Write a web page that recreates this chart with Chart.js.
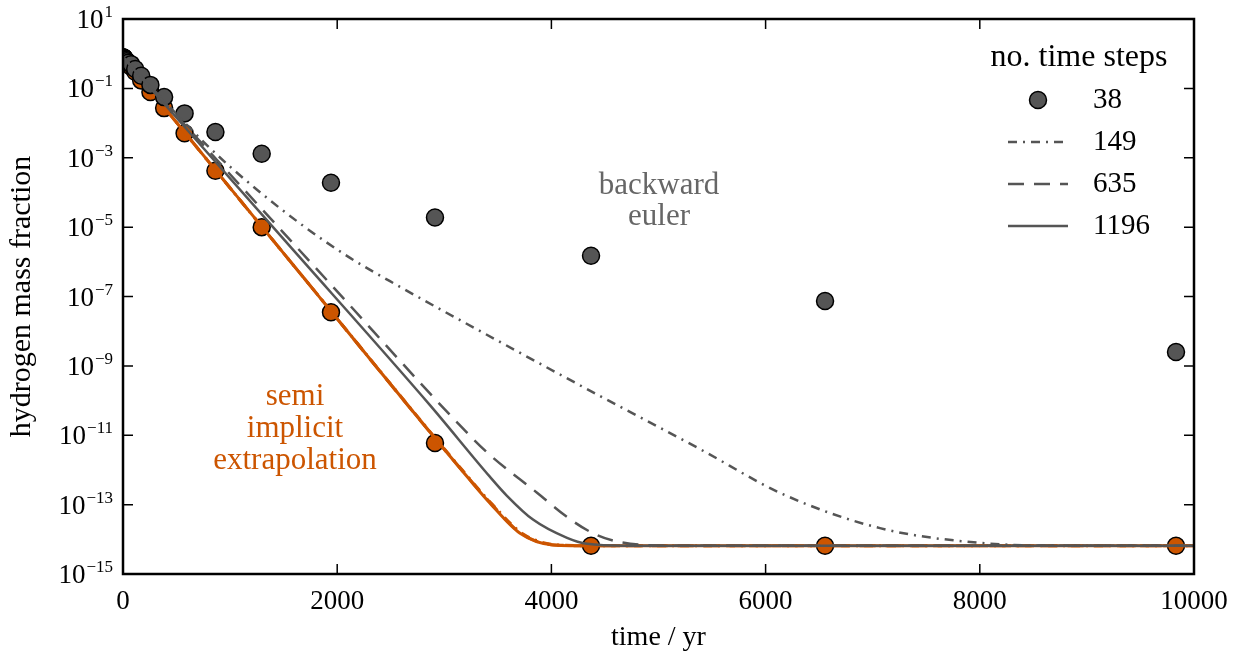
<!DOCTYPE html>
<html>
<head>
<meta charset="utf-8">
<script src="https://cdn.jsdelivr.net/npm/chart.js@4"></script>
<style>
  html, body { margin: 0; padding: 0; background: #fff; }
</style>
</head>
<body>
<canvas id="grafico" width="1245" height="658"></canvas>
<script>
// eixos
const xTicks = [0, 2000, 4000, 6000, 8000, 10000];
const yTicks = [1e1, 1e-1, 1e-3, 1e-5, 1e-7, 1e-9, 1e-11, 1e-13, 1e-15];
const yTickExps = ['1', '\u22121', '\u22123', '\u22125', '\u22127', '\u22129', '\u221211', '\u221213', '\u221215'];

// 38 passos: tempos dos pontos (yr)
const stepTimes = [3, 5, 7, 10, 15, 22, 34, 50, 76, 114, 170, 256, 384, 575, 863, 1295, 1942, 2913, 4370, 6555, 9832];
const eulerPoints = [0.78, 0.77, 0.76, 0.74, 0.71, 0.67, 0.61, 0.55, 0.5, 0.36, 0.23, 0.126, 0.056, 0.019, 5.5e-3, 1.3e-3, 1.9e-4, 1.9e-5, 1.5e-6, 7.4e-8, 2.5e-9];
const semiPoints = [0.78, 0.77, 0.755, 0.735, 0.70, 0.66, 0.59, 0.52, 0.42, 0.30, 0.17, 0.079, 0.027, 5.1e-3, 4.2e-4, 1.0e-5, 3.5e-8, 6e-12, 6.5e-15, 6.5e-15, 6.5e-15];

// backward euler, 149 / 635 / 1196 passos
const euler149T = [0, 812, 1251, 1681, 2120, 2586, 3520, 4454, 5387, 6162, 7068, 8002, 8936, 10000];
const euler149Y = [0.8, 1.9e-3, 1.2e-4, 1.1e-5, 1.3e-6, 1.9e-7, 4.9e-9, 1.35e-10, 4.0e-12, 2.0e-13, 2.1e-14, 7.9e-15, 6.5e-15, 6.5e-15];
const euler635T = [0, 1111, 1942, 3128, 3399, 3866, 4146, 4388, 4640, 5200, 10000];
const euler635Y = [0.8, 1.4e-4, 2.2e-7, 2.2e-11, 3.2e-12, 2.2e-13, 4.4e-14, 1.5e-14, 8.3e-15, 6.5e-15, 6.5e-15];
const euler1196T = [0, 1500, 2866, 3427, 3585, 3828, 4146, 4332, 4700, 10000];
const euler1196Y = [0.8, 4.5e-6, 7.4e-11, 6.3e-13, 1.8e-13, 3.7e-14, 1.1e-14, 7.4e-15, 6.5e-15, 6.5e-15];

// semi implicit extrapolation, 149 / 635 / 1196 passos
const semi149T = [0, 1600, 3260, 3450, 3740, 4060, 4500, 10000];
const semi149Y = [0.8, 7.4e-7, 4.6e-13, 1.0e-13, 1.4e-14, 6.9e-15, 6.5e-15, 6.5e-15];
const semi635T = [0, 1600, 3250, 3440, 3720, 4030, 4450, 10000];
const semi635Y = [0.8, 7.4e-7, 4.8e-13, 1.05e-13, 1.45e-14, 6.9e-15, 6.5e-15, 6.5e-15];
const semi1196T = [0, 1600, 3240, 3427, 3707, 4015, 4400, 10000];
const semi1196Y = [0.8, 7.4e-7, 5.1e-13, 1.1e-13, 1.5e-14, 6.9e-15, 6.5e-15, 6.5e-15];

const legendLabels = ['38', '149', '635', '1196'];

const GRAY = '#555555';
const ORANGE = '#cc5500';
const FONT = 'Liberation Serif';

function pts(xs, ys) {
  return xs.map((x, i) => ({ x: x, y: ys[i] }));
}

function lineSet(xs, ys, color, dash, width) {
  return {
    data: pts(xs, ys),
    showLine: true,
    borderColor: color,
    borderWidth: width,
    borderDash: dash,
    pointRadius: 0,
    fill: false,
    cubicInterpolationMode: 'monotone'
  };
}

function markerSet(xs, ys, color) {
  return {
    data: pts(xs, ys),
    showLine: false,
    pointRadius: 8.5,
    pointBackgroundColor: color,
    pointBorderColor: '#000',
    pointBorderWidth: 1.5
  };
}

const DASHDOT = [9, 6, 2, 6];
const DASHED = [16, 10];

// moldura, marcas para dentro, rótulos do eixo y, legenda e textos
const extras = {
  id: 'extras',
  afterDraw(chart) {
    const c = chart.ctx;
    const a = chart.chartArea;
    const sx = chart.scales.x;
    const sy = chart.scales.y;
    c.save();
    c.strokeStyle = '#000';
    c.lineWidth = 1.5;
    xTicks.forEach(v => {
      const px = sx.getPixelForValue(v);
      c.beginPath();
      c.moveTo(px, a.bottom); c.lineTo(px, a.bottom - 10);
      c.moveTo(px, a.top); c.lineTo(px, a.top + 10);
      c.stroke();
    });
    yTicks.forEach((v, i) => {
      const py = sy.getPixelForValue(v);
      c.beginPath();
      c.moveTo(a.left, py); c.lineTo(a.left + 10, py);
      c.moveTo(a.right, py); c.lineTo(a.right - 10, py);
      c.stroke();
      // 10^n
      c.fillStyle = '#000';
      c.textBaseline = 'alphabetic';
      c.textAlign = 'right';
      c.font = '17px "' + FONT + '"';
      const ew = c.measureText(yTickExps[i]).width;
      c.fillText(yTickExps[i], a.left - 10, py - 2);
      c.font = '27px "' + FONT + '"';
      c.fillText('10', a.left - 11 - ew, py + 9);
    });
    c.lineWidth = 2.5;
    c.strokeRect(a.left, a.top, a.right - a.left, a.bottom - a.top);

    // legenda
    c.textBaseline = 'middle';
    c.textAlign = 'center';
    c.fillStyle = '#000';
    c.font = '32px "' + FONT + '"';
    c.fillText('no. time steps', 1079, 58);
    c.font = '29px "' + FONT + '"';
    const rows = [100, 142, 184, 226];
    c.textAlign = 'left';
    rows.forEach((ry, i) => {
      c.fillStyle = '#000';
      c.fillText(legendLabels[i], 1093, ry);
      if (i === 0) {
        c.beginPath();
        c.arc(1038, ry, 8.5, 0, Math.PI * 2);
        c.fillStyle = GRAY;
        c.fill();
        c.lineWidth = 1.5;
        c.strokeStyle = '#000';
        c.stroke();
      } else {
        c.beginPath();
        c.setLineDash(i === 1 ? DASHDOT : (i === 2 ? DASHED : []));
        c.strokeStyle = GRAY;
        c.lineWidth = 2.5;
        c.moveTo(1008, ry); c.lineTo(1068, ry);
        c.stroke();
        c.setLineDash([]);
      }
    });

    // anotações
    c.font = '31px "' + FONT + '"';
    c.textAlign = 'center';
    c.fillStyle = '#666666';
    c.fillText('backward', 659, 186);
    c.fillText('euler', 659, 217);
    c.fillStyle = ORANGE;
    c.fillText('semi', 295, 397);
    c.fillText('implicit', 295, 429);
    c.fillText('extrapolation', 295, 461);
    c.restore();
  }
};

const ctx = document.getElementById('grafico');

const grafico = new Chart(ctx, {
  type: 'scatter',
  data: {
    datasets: [
      lineSet(euler149T, euler149Y, GRAY, DASHDOT, 2.5),
      lineSet(euler635T, euler635Y, GRAY, DASHED, 2.5),
      lineSet(euler1196T, euler1196Y, GRAY, [], 2.5),
      markerSet(stepTimes, eulerPoints, GRAY),
      lineSet(semi149T, semi149Y, ORANGE, DASHDOT, 3),
      lineSet(semi635T, semi635Y, ORANGE, DASHED, 3),
      lineSet(semi1196T, semi1196Y, ORANGE, [], 3),
      markerSet(stepTimes, semiPoints, ORANGE)
    ]
  },
  options: {
    responsive: false,
    animation: false,
    devicePixelRatio: 1,
    layout: { padding: { top: 19, right: 51, left: 0, bottom: 0 } },
    plugins: {
      legend: { display: false },
      tooltip: { enabled: false }
    },
    scales: {
      x: {
        type: 'linear',
        min: 0,
        max: 10000,
        grid: { display: false, drawTicks: false },
        border: { display: false },
        ticks: {
          stepSize: 2000,
          padding: 12,
          maxRotation: 0,
          color: '#000',
          font: { family: FONT, size: 27 },
          callback: (v) => String(v)
        },
        title: {
          display: true,
          text: 'time / yr',
          color: '#000',
          font: { family: FONT, size: 28 }
        },
        afterFit(scale) { scale.height = 84; }
      },
      y: {
        type: 'logarithmic',
        min: 1e-15,
        max: 1e1,
        grid: { display: false, drawTicks: false },
        border: { display: false },
        ticks: { display: false },
        title: {
          display: true,
          text: 'hydrogen mass fraction',
          color: '#000',
          font: { family: FONT, size: 30 }
        },
        afterFit(scale) { scale.width = 123; }
      }
    }
  },
  plugins: [extras]
});
</script>
</body>
</html>
